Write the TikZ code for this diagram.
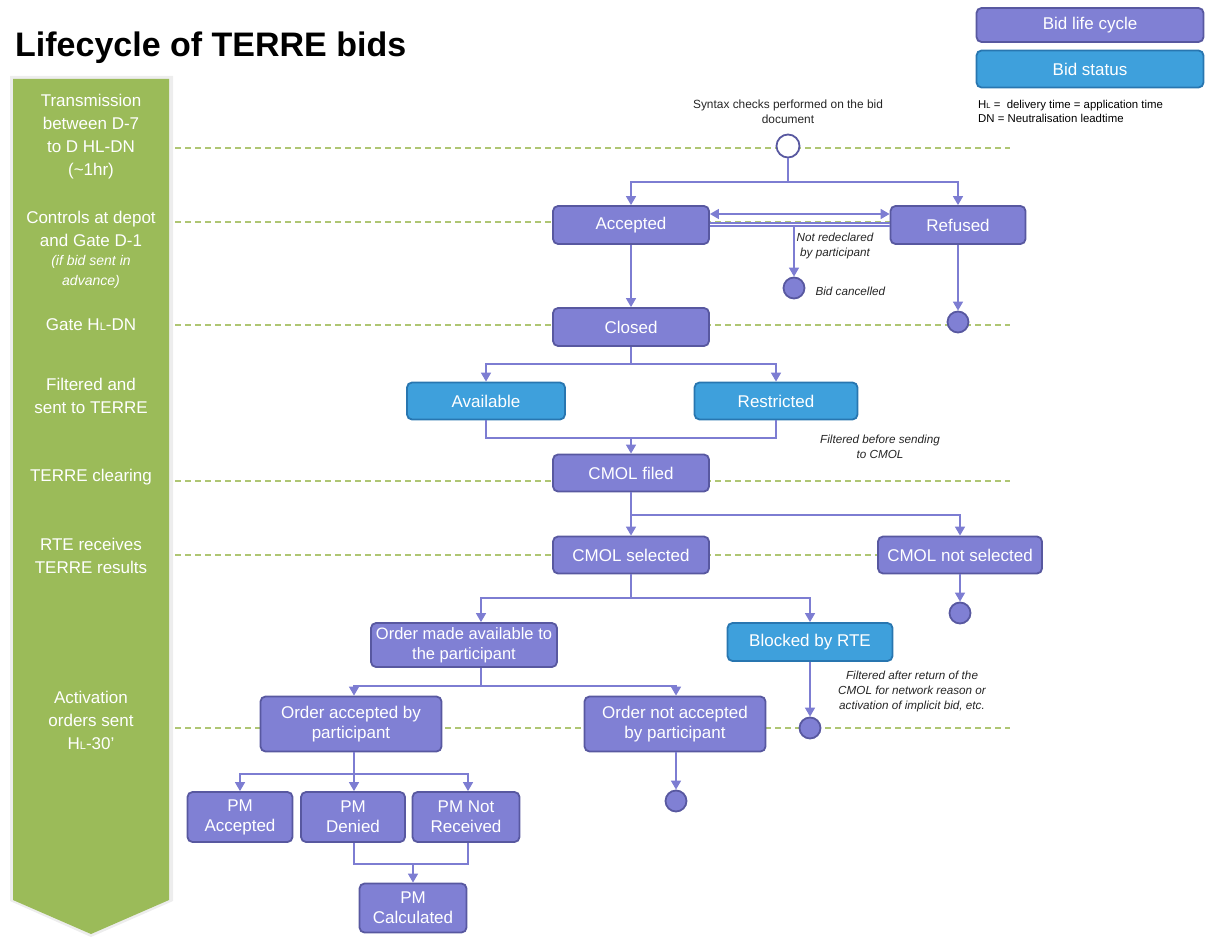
\documentclass[tikz,border=0pt]{standalone}
\usepackage{fontspec}
\setmainfont{Liberation Sans}
\usetikzlibrary{arrows.meta}
\definecolor{lifeF}{RGB}{128,128,212}
\definecolor{lifeB}{RGB}{88,88,160}
\definecolor{statF}{RGB}{62,160,220}
\definecolor{statB}{RGB}{40,118,176}
\definecolor{connC}{RGB}{125,125,210}
\definecolor{greenA}{RGB}{155,187,89}
\definecolor{dashC}{RGB}{175,198,115}
\newcommand{\bxf}{\fontsize{17}{20}\selectfont}
\newcommand{\lblf}{\fontsize{17}{23}\selectfont}
\newcommand{\notef}{\fontsize{11.7}{15}\selectfont\itshape}
\begin{document}
\begin{tikzpicture}[x=1pt,y=-1pt,
 life/.style={draw=lifeB, fill=lifeF, line width=1.8pt, rounded corners=5pt, text=white, font=\bxf, align=center, inner sep=0pt},
 stat/.style={life, draw=statB, fill=statF},
 endc/.style={circle, draw=lifeB, fill=lifeF, line width=1.8pt, minimum size=21pt, inner sep=0pt},
 conn/.style={draw=connC, line width=1.5pt},
 arr/.style={conn, -{Triangle[width=10pt,length=9pt]}},
 dl/.style={draw=dashC, line width=1.2pt, dash pattern=on 6pt off 4pt},
 lbl/.style={text=white, font=\lblf, align=center},
 note/.style={font=\notef, align=center, text=black!85}
]
\useasboundingbox (0,0) rectangle (1206,936);

% title
\node[anchor=base west, font=\fontsize{34}{40}\selectfont\bfseries, inner sep=0pt] (title) at (15,57) {Lifecycle of TERRE bids};

% green time arrow
\fill[black!7] (10,76) -- (173,76) -- (173,901) -- (91,937) -- (10,901) -- cycle;
\fill[greenA] (13,79) -- (169,79) -- (169,900) -- (91,934) -- (13,900) -- cycle;

% left labels
\node[lbl] (l1) at (91,137) {Transmission\\between D-7\\to D HL-DN\\(\textasciitilde1hr)};
\node[lbl] (l2) at (91,229) {Controls at depot\\and Gate D-1};
\node[lbl, font=\fontsize{14}{20}\selectfont\itshape] (l2b) at (91,272) {(if bid sent in\\advance)};
\node[lbl] (l3) at (91,325) {Gate H{\fontsize{11}{11}\selectfont L}-DN};
\node[lbl] (l4) at (91,396) {Filtered and\\sent to TERRE};
\node[lbl] (l5) at (91,477) {TERRE clearing};
\node[lbl] (l6) at (91,556) {RTE receives\\TERRE results};
\node[lbl] (l7) at (91,720) {Activation\\orders sent\\H{\fontsize{11}{11}\selectfont L}-30’};

% dashed time lines
\foreach \yy in {148,222,325,481,555,728}
  \draw[dl] (175,\yy) -- (1010,\yy);

% legend
\node[life, minimum width=227pt, minimum height=34pt] (lg1) at (1090,25) {Bid life cycle};
\node[stat, minimum width=227pt, minimum height=37pt] (lg2) at (1090,69) {Bid status};
\node[anchor=west, font=\fontsize{11.4}{14}\selectfont, align=left, inner sep=0pt] (lgt) at (978,111) {H{\fontsize{7.5}{7.5}\selectfont L} =\ \ delivery time = application time\\DN = Neutralisation leadtime};

% nodes
\node[note, font=\fontsize{11.9}{15}\selectfont] (syn) at (788,112) {Syntax checks performed on the bid\\document};
\node[endc, fill=white, minimum size=23pt] (start) at (788,146) {};
\node[life, minimum width=156pt, minimum height=38pt] (acc) at (631,225) {Accepted};
\node[life, minimum width=135pt, minimum height=38pt] (ref) at (958,225) {Refused};
\node[endc] (bc) at (794,288) {};
\node[note, anchor=west] (bct) at (812,291) {Bid cancelled};
\node[note] (nr) at (835,246) {Not redeclared\\by participant};
\node[endc] (refe) at (958,322) {};
\node[life, minimum width=156pt, minimum height=38pt] (clo) at (631,327) {Closed};
\node[stat, minimum width=158pt, minimum height=37pt] (avl) at (486,401) {Available};
\node[stat, minimum width=163pt, minimum height=37pt] (rst) at (776,401) {Restricted};
\node[note] (fb) at (880,447) {Filtered before sending\\to CMOL};
\node[life, minimum width=156pt, minimum height=37pt] (cf) at (631,473) {CMOL filed};
\node[life, minimum width=156pt, minimum height=37pt] (cs) at (631,555) {CMOL selected};
\node[life, minimum width=164pt, minimum height=37pt] (cns) at (960,555) {CMOL not selected};
\node[endc] (cnse) at (960,613) {};
\node[life, minimum width=186pt, minimum height=44pt, font=\fontsize{16.5}{20}\selectfont] (oma) at (464,645) {Order made available to\\the participant};
\node[stat, minimum width=165pt, minimum height=38pt] (blk) at (810,642) {Blocked by RTE};
\node[note] (fa) at (912,691) {Filtered after return of the\\CMOL for network reason or\\activation of implicit bid, etc.};
\node[endc] (blke) at (810,728) {};
\node[life, minimum width=181pt, minimum height=55pt] (oac) at (351,724) {Order accepted by\\participant};
\node[life, minimum width=181pt, minimum height=55pt] (ona) at (675,724) {Order not accepted\\by participant};
\node[endc] (onae) at (676,801) {};
\node[life, minimum width=105pt, minimum height=50pt] (pma) at (240,817) {PM\\Accepted};
\node[life, minimum width=104pt, minimum height=50pt] (pmd) at (353,817) {PM\\Denied};
\node[life, minimum width=107pt, minimum height=50pt] (pmn) at (466,817) {PM Not\\Received};
\node[life, minimum width=107pt, minimum height=49pt] (pmc) at (413,908) {PM\\Calculated};

% junction coordinates
\coordinate (j1) at (788,182);
\coordinate (j2) at (794,226);
\coordinate (j3) at (631,364);
\coordinate (j4) at (631,438);
\coordinate (j5) at (631,515);
\coordinate (j6) at (631,598);
\coordinate (j7) at (481,686);
\coordinate (j8) at (354,774);
\coordinate (j9) at (413,864);

% connectors
\draw[conn] (start) -- (j1);
\draw[arr] (j1) -| (acc.north);
\draw[arr] (j1) -| (ref.north);
\draw[conn, {Triangle[width=10pt,length=9pt]}-{Triangle[width=10pt,length=9pt]}] (acc.east |- 0,214) -- (ref.west |- 0,214);
\draw[conn, line width=1.2pt] (acc.east |- 0,223) -- (ref.west |- 0,223);
\draw[conn, line width=1.2pt] (acc.east |- 0,226) -- (ref.west |- 0,226);
\draw[arr] (j2) -- (bc);
\draw[arr] (acc) -- (clo);
\draw[arr] (ref) -- (refe);
\draw[conn] (clo) -- (j3);
\draw[arr] (j3) -| (avl.north);
\draw[arr] (j3) -| (rst.north);
\draw[conn] (avl.south) |- (j4);
\draw[conn] (rst.south) |- (j4);
\draw[arr] (j4) -- (cf);
\draw[conn] (cf) -- (j5);
\draw[arr] (j5) -- (cs);
\draw[arr] (j5) -| (cns.north);
\draw[arr] (cns) -- (cnse);
\draw[conn] (cs) -- (j6);
\draw[arr] (j6) -| ([xshift=17pt]oma.north);
\draw[arr] (j6) -| (blk.north);
\draw[arr] (blk) -- (blke);
\draw[conn] ([xshift=17pt]oma.south) -- (j7);
\draw[arr] (j7) -| ([xshift=3pt]oac.north);
\draw[arr] (j7) -| ([xshift=1pt]ona.north);
\draw[arr] ([xshift=1pt]ona.south) -- (onae);
\draw[conn] ([xshift=3pt]oac.south) -- (j8);
\draw[arr] (j8) -| (pma.north);
\draw[arr] (j8) -- (pmd.north -| j8);
\draw[arr] (j8) -| ([xshift=2pt]pmn.north);
\draw[conn] ([xshift=1pt]pmd.south) |- (j9);
\draw[conn] ([xshift=2pt]pmn.south) |- (j9);
\draw[arr] (j9) -- (pmc);
\end{tikzpicture}
\end{document}
